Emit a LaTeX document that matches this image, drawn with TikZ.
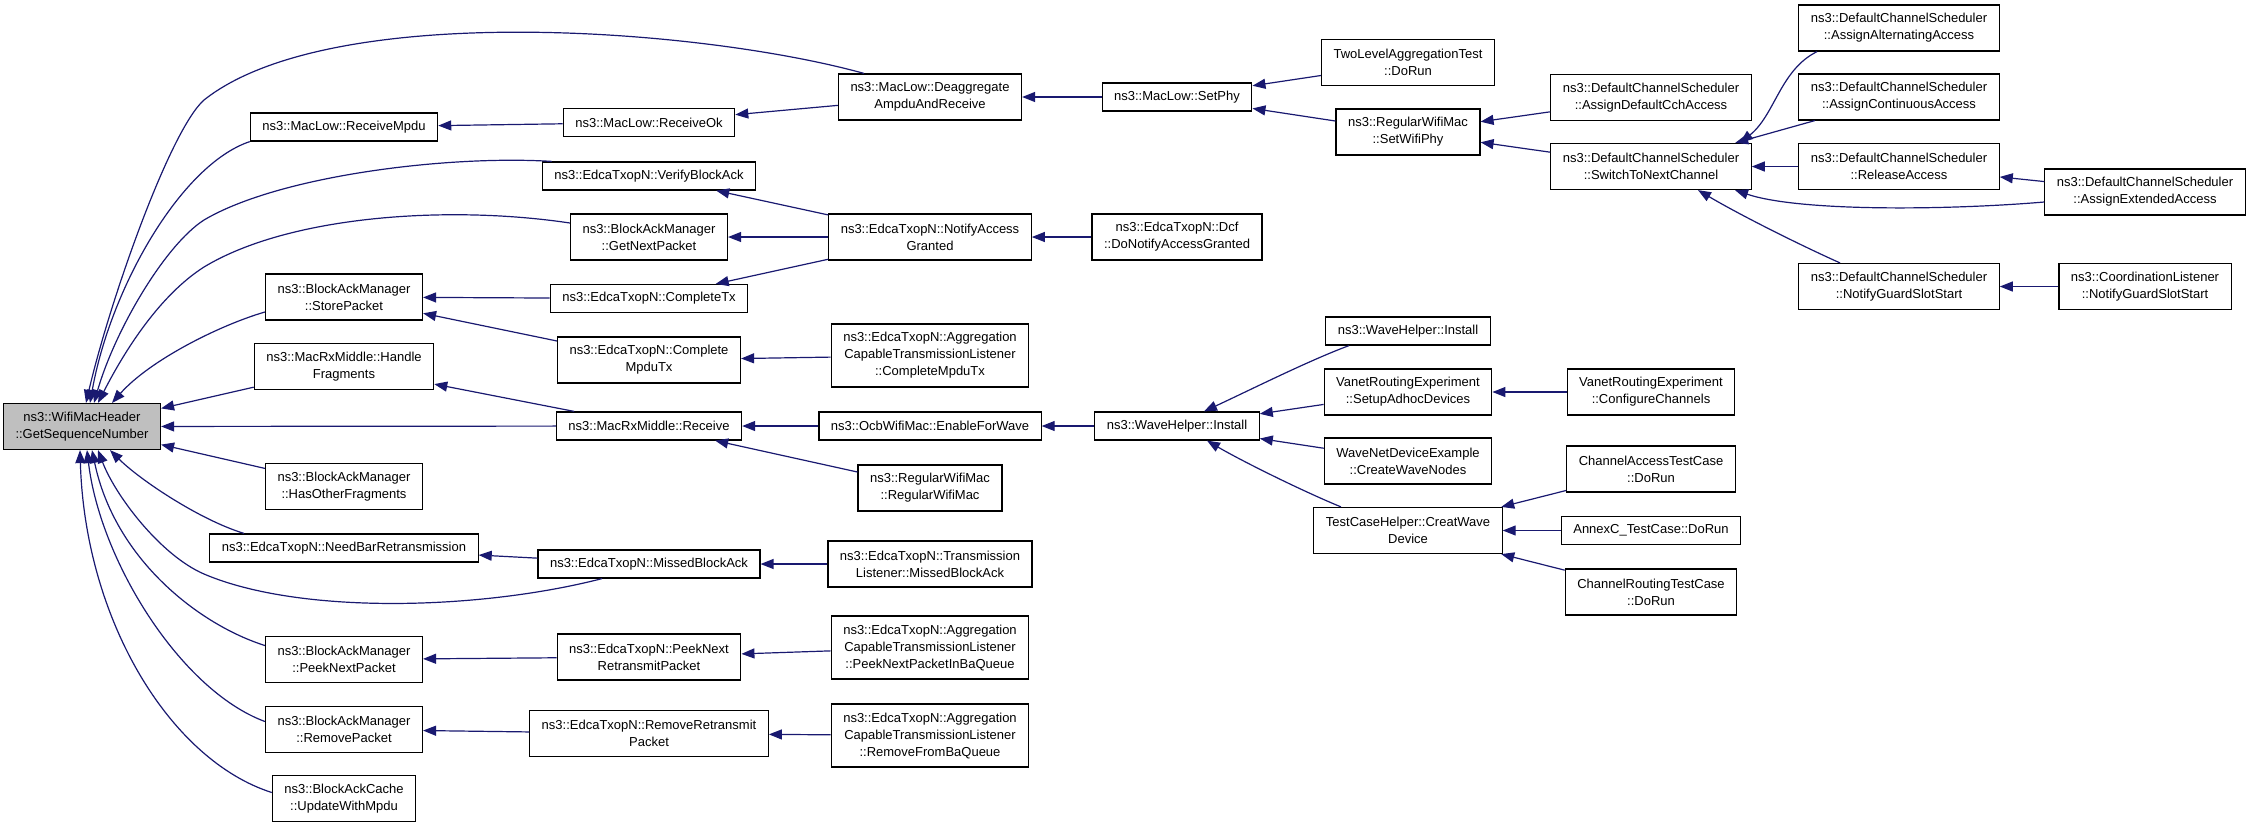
\documentclass[tikz,border=0pt]{standalone}
\usepackage{fontspec}
\setmainfont{Liberation Sans}
\usetikzlibrary{arrows.meta}
\definecolor{callblue}{HTML}{191970}
\definecolor{rootgray}{HTML}{BFBFBF}
\tikzset{
  fn/.style={draw=black, line width=0.6pt, fill=white, align=center, font=\fontsize{6.5}{8.5}\selectfont, inner xsep=6pt, inner ysep=1pt, minimum height=14pt},
  two/.style={minimum height=23pt},
  three/.style={minimum height=31.5pt},
  call/.style={->, draw=callblue, line width=0.6pt}
}
\begin{document}
\begin{tikzpicture}[x=0.5pt, y=-0.5pt, >={Triangle[length=6.5pt,width=5pt]}]
\useasboundingbox (0,0) rectangle (2253,827);
\node[fn, two, fill=rootgray] (root) at (82,426.5) {ns3::WifiMacHeader\\::GetSequenceNumber};
\node[fn] (rxMpdu) at (344,127) {ns3::MacLow::ReceiveMpdu};
\node[fn, two] (storePkt) at (344,297) {ns3::BlockAckManager\\::StorePacket};
\node[fn, two] (handleFrag) at (344,366.5) {ns3::MacRxMiddle::Handle\\Fragments};
\node[fn, two] (hasOther) at (344,486.5) {ns3::BlockAckManager\\::HasOtherFragments};
\node[fn] (needBar) at (344,548) {ns3::EdcaTxopN::NeedBarRetransmission};
\node[fn, two] (peekNext) at (344,659.5) {ns3::BlockAckManager\\::PeekNextPacket};
\node[fn, two] (removePkt) at (344,729.5) {ns3::BlockAckManager\\::RemovePacket};
\node[fn, two] (updMpdu) at (344,798.5) {ns3::BlockAckCache\\::UpdateWithMpdu};
\node[fn] (rxOk) at (649,122.5) {ns3::MacLow::ReceiveOk};
\node[fn] (verifyBa) at (649,176) {ns3::EdcaTxopN::VerifyBlockAck};
\node[fn, two] (getNext) at (649,237) {ns3::BlockAckManager\\::GetNextPacket};
\node[fn] (completeTx) at (649,298.5) {ns3::EdcaTxopN::CompleteTx};
\node[fn, two] (completeMpdu) at (649,360) {ns3::EdcaTxopN::Complete\\MpduTx};
\node[fn] (rxMiddle) at (649,426) {ns3::MacRxMiddle::Receive};
\node[fn] (missedBa) at (649,564) {ns3::EdcaTxopN::MissedBlockAck};
\node[fn, two] (peekRetx) at (649,657) {ns3::EdcaTxopN::PeekNext\\RetransmitPacket};
\node[fn, two] (removeRetx) at (649,733.5) {ns3::EdcaTxopN::RemoveRetransmit\\Packet};
\node[fn, two] (deaggr) at (930,97) {ns3::MacLow::Deaggregate\\AmpduAndReceive};
\node[fn, two] (notifyAcc) at (930,237) {ns3::EdcaTxopN::NotifyAccess\\Granted};
\node[fn, three] (aggCompl) at (930,355.5) {ns3::EdcaTxopN::Aggregation\\CapableTransmissionListener\\::CompleteMpduTx};
\node[fn] (enableWave) at (930,426) {ns3::OcbWifiMac::EnableForWave};
\node[fn, two] (regMac) at (930,488) {ns3::RegularWifiMac\\::RegularWifiMac};
\node[fn, two] (txMissed) at (930,564) {ns3::EdcaTxopN::Transmission\\Listener::MissedBlockAck};
\node[fn, three] (aggPeek) at (930,647.5) {ns3::EdcaTxopN::Aggregation\\CapableTransmissionListener\\::PeekNextPacketInBaQueue};
\node[fn, three] (aggRemove) at (930,735.5) {ns3::EdcaTxopN::Aggregation\\CapableTransmissionListener\\::RemoveFromBaQueue};
\node[fn] (setPhy) at (1177,97) {ns3::MacLow::SetPhy};
\node[fn, two] (dcfNotify) at (1177,237) {ns3::EdcaTxopN::Dcf\\::DoNotifyAccessGranted};
\node[fn] (waveInstA) at (1177,426) {ns3::WaveHelper::Install};
\node[fn, two] (twoLevel) at (1408,62.5) {TwoLevelAggregationTest\\::DoRun};
\node[fn, two] (setWifiPhy) at (1408,132) {ns3::RegularWifiMac\\::SetWifiPhy};
\node[fn] (waveInstB) at (1408,331) {ns3::WaveHelper::Install};
\node[fn, two] (setupAdhoc) at (1408,392) {VanetRoutingExperiment\\::SetupAdhocDevices};
\node[fn, two] (createNodes) at (1408,461) {WaveNetDeviceExample\\::CreateWaveNodes};
\node[fn, two] (creatDevice) at (1408,530.5) {TestCaseHelper::CreatWave\\Device};
\node[fn, two] (assignCch) at (1651,97.5) {ns3::DefaultChannelScheduler\\::AssignDefaultCchAccess};
\node[fn, two] (switchCh) at (1651,166.5) {ns3::DefaultChannelScheduler\\::SwitchToNextChannel};
\node[fn, two] (configCh) at (1651,392) {VanetRoutingExperiment\\::ConfigureChannels};
\node[fn, two] (chAccess) at (1651,469) {ChannelAccessTestCase\\::DoRun};
\node[fn] (annexC) at (1651,530.5) {AnnexC\_TestCase::DoRun};
\node[fn, two] (chRouting) at (1651,592) {ChannelRoutingTestCase\\::DoRun};
\node[fn, two] (assignAlt) at (1899,28) {ns3::DefaultChannelScheduler\\::AssignAlternatingAccess};
\node[fn, two] (assignCont) at (1899,97) {ns3::DefaultChannelScheduler\\::AssignContinuousAccess};
\node[fn, two] (releaseAcc) at (1899,166.5) {ns3::DefaultChannelScheduler\\::ReleaseAccess};
\node[fn, two] (notifyGuard) at (1899,286.5) {ns3::DefaultChannelScheduler\\::NotifyGuardSlotStart};
\node[fn, two] (assignExt) at (2145,192) {ns3::DefaultChannelScheduler\\::AssignExtendedAccess};
\node[fn, two] (coordGuard) at (2145,286.5) {ns3::CoordinationListener\\::NotifyGuardSlotStart};
\draw[call] ([xshift=-33pt]deaggr.north) .. controls (700,28) and (330,0) .. (204,100) .. controls (170,130) and (110,300) .. ([xshift=2pt]root.north);
\draw[call] (rxMpdu.south west) .. controls (180,165) and (110,290) .. ([xshift=4pt]root.north);
\draw[call] ([xshift=5pt]verifyBa.north west) .. controls (450,155) and (280,175) .. (204,220) .. controls (165,245) and (115,330) .. ([xshift=6pt]root.north);
\draw[call] ([yshift=7pt]getNext.west) .. controls (450,205) and (290,215) .. (204,267) .. controls (160,295) and (125,350) .. ([xshift=8pt]root.north);
\draw[call] ([yshift=-7.5pt]storePkt.west) .. controls (220,325) and (150,360) .. ([xshift=15pt]root.north);
\draw[call] (handleFrag) -- (root);
\draw[call] (rxMiddle) -- (root);
\draw[call] (hasOther) -- (root);
\draw[call] ([xshift=-50pt]needBar.north) .. controls (200,520) and (140,480) .. ([xshift=14pt]root.south);
\draw[call] ([xshift=-23.5pt]missedBa.south) .. controls (480,610) and (300,615) .. (204,574) .. controls (160,555) and (115,495) .. ([xshift=8pt]root.south);
\draw[call] ([yshift=7pt]peekNext.west) .. controls (200,625) and (115,560) .. ([xshift=5pt]root.south);
\draw[call] ([yshift=4pt]removePkt.west) .. controls (180,690) and (100,560) .. ([xshift=2.5pt]root.south);
\draw[call] ([yshift=3pt]updMpdu.west) .. controls (170,760) and (85,620) .. ([xshift=-1pt]root.south);
\draw[call] (rxOk) -- (rxMpdu);
\draw[call] (deaggr) -- (rxOk);
\draw[call] (setPhy) -- (deaggr);
\draw[call] (twoLevel) -- (setPhy);
\draw[call] (setWifiPhy) -- (setPhy);
\draw[call] (assignCch) -- (setWifiPhy);
\draw[call] (switchCh) -- (setWifiPhy);
\draw[call] ([xshift=-41pt]assignAlt.south) .. controls (1780,70) and (1775,115) .. ([xshift=44.5pt]switchCh.north);
\draw[call] (assignCont) -- (switchCh);
\draw[call] (releaseAcc) -- (switchCh);
\draw[call] (assignExt) -- (releaseAcc);
\draw[call] ([yshift=-5pt]assignExt.west) .. controls (1950,210) and (1800,212) .. ([xshift=42pt]switchCh.south);
\draw[call] ([xshift=-29.5pt]notifyGuard.north) .. controls (1800,245) and (1740,215) .. ([xshift=23.5pt]switchCh.south);
\draw[call] (coordGuard) -- (notifyGuard);
\draw[call] (notifyAcc) -- (verifyBa);
\draw[call] (notifyAcc) -- (getNext);
\draw[call] (notifyAcc) -- (completeTx);
\draw[call] (dcfNotify) -- (notifyAcc);
\draw[call] (completeTx) -- (storePkt);
\draw[call] (completeMpdu) -- (storePkt);
\draw[call] (aggCompl) -- (completeMpdu);
\draw[call] (rxMiddle) -- (handleFrag);
\draw[call] (enableWave) -- (rxMiddle);
\draw[call] (regMac) -- (rxMiddle);
\draw[call] (waveInstA) -- (enableWave);
\draw[call] ([xshift=-29.5pt]waveInstB.south) .. controls (1310,360) and (1250,390) .. ([xshift=13.5pt]waveInstA.north);
\draw[call] (setupAdhoc) -- (waveInstA);
\draw[call] (configCh) -- (setupAdhoc);
\draw[call] (createNodes) -- (waveInstA);
\draw[call] ([xshift=-33.5pt]creatDevice.north) .. controls (1300,490) and (1240,460) .. ([xshift=15pt]waveInstA.south);
\draw[call] (chAccess) -- (creatDevice);
\draw[call] (annexC) -- (creatDevice);
\draw[call] (chRouting) -- (creatDevice);
\draw[call] (missedBa) -- (needBar);
\draw[call] (txMissed) -- (missedBa);
\draw[call] (peekRetx) -- (peekNext);
\draw[call] (aggPeek) -- (peekRetx);
\draw[call] (removeRetx) -- (removePkt);
\draw[call] (aggRemove) -- (removeRetx);
\end{tikzpicture}
\end{document}
